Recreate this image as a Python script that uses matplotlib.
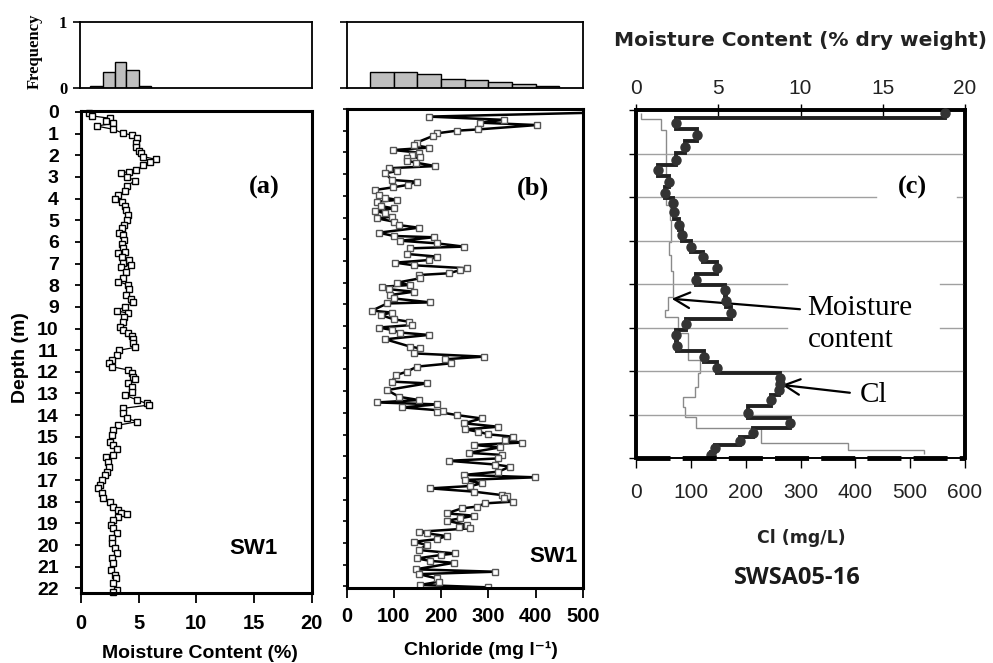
import numpy as np
import matplotlib
matplotlib.use('Agg')
import matplotlib.pyplot as plt

W, H = 993, 663

# (a) moisture content profile, SW1
a_depth = [0.06, 0.18, 0.29, 0.40, 0.52, 0.65, 0.80, 0.99, 1.06, 1.22, 1.42, 1.63, 1.79, 1.91, 2.06,
           2.19, 2.29, 2.45, 2.68, 2.76, 2.80, 2.99, 3.17, 3.42, 3.63, 3.83, 4.03, 4.14, 4.34, 4.53,
           4.76, 5.00, 5.22, 5.37, 5.57, 5.68, 5.91, 6.10, 6.30, 6.45, 6.53, 6.68, 6.84, 6.99, 7.07,
           7.14, 7.37, 7.68, 7.84, 7.99, 8.19, 8.45, 8.65, 8.76, 8.99, 9.18, 9.30, 9.48, 9.68, 9.92,
           10.07, 10.22, 10.35, 10.50, 10.69, 10.87, 11.00, 11.23, 11.46, 11.61, 11.76, 11.92, 12.07,
           12.26, 12.35, 12.50, 12.69, 12.92, 13.07, 13.30, 13.46, 13.53, 13.69, 13.92, 14.15, 14.30,
           14.46, 14.69, 14.92, 15.23, 15.38, 15.58, 15.85, 15.95, 16.15, 16.38, 16.61, 16.77, 17.00,
           17.23, 17.38, 17.61, 17.84, 18.00, 18.23, 18.38, 18.54, 18.57, 18.69, 18.85, 19.08, 19.23,
           19.46, 19.69, 19.92, 20.15, 20.38, 20.61, 20.84, 21.15, 21.38, 21.54, 21.77, 22.08, 22.18]
a_moist = [0.72, 0.93, 2.52, 2.17, 2.81, 1.36, 2.81, 3.68, 4.41, 4.90, 4.78, 4.78, 4.99, 5.19, 5.42,
           6.52, 6.00, 5.42, 4.78, 4.20, 3.45, 3.97, 4.70, 3.97, 3.83, 3.25, 2.96, 3.54, 3.83, 3.91,
           4.06, 3.97, 3.74, 3.54, 3.33, 3.68, 3.74, 3.54, 3.68, 3.83, 3.25, 3.54, 4.20, 3.68, 4.35,
           3.45, 3.91, 3.68, 3.25, 4.12, 4.20, 3.91, 4.32, 4.55, 3.83, 3.10, 4.12, 3.74, 3.62, 3.39,
           3.68, 4.12, 4.41, 4.55, 4.50, 4.70, 3.33, 3.10, 2.67, 2.46, 2.67, 4.12, 4.41,
           4.55, 4.70, 4.04, 4.41, 4.41, 3.83, 4.84, 5.71, 5.94, 3.62, 3.68, 3.97, 4.90,
           3.25, 2.81, 2.67, 2.52, 2.81, 3.10, 2.81, 2.17, 2.38, 2.46, 2.29, 2.09, 1.80,
           1.65, 1.51, 1.80, 1.94, 2.52, 2.81, 3.25, 3.45, 3.97, 3.25, 2.81, 2.58, 2.81,
           3.10, 2.67, 2.67, 2.96, 3.10, 2.67, 2.81, 2.61, 2.96, 3.04, 2.81, 3.10, 2.75]

# (b) chloride profile, SW1
b_depth = [0.15, 0.35, 0.50, 0.63, 0.74, 0.94, 1.00, 1.12, 1.24, 1.55, 1.66, 1.78, 1.89, 2.01, 2.12,
           2.23, 2.27, 2.38, 2.47, 2.63, 2.73, 2.86, 2.96, 3.27, 3.35, 3.50, 3.61, 3.73, 3.96, 4.09,
           4.19, 4.27, 4.47, 4.58, 4.69, 4.81, 4.96, 5.04, 5.19, 5.35, 5.47, 5.70, 5.85, 5.91, 6.07,
           6.19, 6.34, 6.42, 6.68, 6.80, 6.96, 7.08, 7.20, 7.34, 7.42, 7.57, 7.65, 7.80, 8.00, 8.11,
           8.19, 8.30, 8.42, 8.57, 8.73, 8.91, 8.96, 9.29, 9.38, 9.49, 9.69, 9.80, 9.95, 10.07, 10.18,
           10.30, 10.41, 10.61, 10.95, 11.03, 11.26, 11.41, 11.53, 11.72, 11.87, 12.10, 12.26, 12.56,
           12.64, 12.95, 13.26, 13.41, 13.52, 13.61, 13.75, 13.90, 13.95, 14.10, 14.26, 14.48, 14.64,
           14.76, 14.87, 14.99, 15.10, 15.25, 15.37, 15.48, 15.59, 15.84, 15.94, 16.10, 16.21, 16.38,
           16.48, 16.71, 16.86, 16.97, 17.09, 17.25, 17.37, 17.48, 17.63, 17.79, 17.83, 17.94, 18.09,
           18.17, 18.32, 18.40, 18.63, 18.74, 18.86, 18.97, 19.17, 19.25, 19.32, 19.48, 19.55, 19.68,
           19.82, 19.94, 20.09, 20.32, 20.48, 20.55, 20.71, 20.82, 20.91, 21.21, 21.32, 21.43, 21.63,
           21.78, 21.93, 22.04]
b_cl = [560, 174, 332, 283, 402, 279, 233, 191, 183, 148, 142, 174, 99, 153, 139,
        156, 128, 128, 146, 188, 89, 107, 82, 96, 149, 129, 98, 61, 68, 82,
        107, 65, 72, 100, 61, 82, 96, 65, 100, 111, 153, 68, 100, 184, 114,
        191, 248, 135, 128, 191, 174, 103, 142, 255, 241, 216, 153, 156, 107, 134,
        75, 89, 142, 93, 100, 177, 86, 54, 96, 72, 100, 132, 139, 68, 96,
        114, 174, 82, 135, 156, 142, 290, 209, 220, 149, 128, 105, 96,
        170, 86, 111, 153, 65, 191, 118, 205, 191, 233, 286, 248, 321,
        251, 279, 300, 353, 335, 370, 269, 325, 258, 329, 321, 216, 314,
        346, 321, 248, 399, 251, 286, 262, 177, 269, 329, 339, 332, 353,
        293, 276, 244, 212, 269, 241, 212, 255, 237, 262, 153, 170, 212,
        191, 142, 170, 153, 230, 199, 149, 177, 227, 146, 314, 153, 191,
        195, 156, 300]

# frequency histograms above (a) and (b)
hist_a_edges = [0.9, 1.95, 3.0, 4.0, 5.05, 6.1]
hist_a_freq = [0.035, 0.25, 0.40, 0.27, 0.035]
hist_b_edges = [50, 100, 150, 200, 250, 300, 350, 400, 450]
hist_b_freq = [0.235, 0.235, 0.215, 0.135, 0.12, 0.095, 0.06, 0.025]

# (c) SWSA05-16 : Cl samples (bottom axis) and moisture steps (top axis)
c_depth = [0.08, 0.30, 0.57, 0.84, 1.15, 1.38, 1.65, 1.90, 2.13, 2.35, 2.64, 2.87, 3.14, 3.37, 3.64,
           3.90, 4.14, 4.40, 4.67, 4.93, 5.17, 5.43, 5.67, 5.92, 6.17, 6.31, 6.44, 6.67, 6.96, 7.19,
           7.43, 7.62, 7.78, 7.93]
c_cl = [563, 73, 111, 89, 73, 41, 61, 53, 67, 69, 79, 83, 100, 122, 147,
        109, 162, 164, 173, 91, 73, 75, 124, 148, 263, 262, 261, 246, 205, 281,
        214, 190, 144, 136]
c_mc_edges = [0.08, 0.20, 0.46, 2.18, 2.53, 3.03, 3.33, 3.70, 4.29, 4.60, 4.75, 5.13, 5.75, 6.05,
              6.36, 6.59, 6.82, 7.05, 7.32, 7.66, 7.82, 7.90]
c_mc = [0.32, 1.54, 1.84, 2.05, 2.15, 2.00, 2.15, 2.25, 1.95, 1.74, 2.55, 3.16, 3.87, 3.77,
        3.57, 2.86, 3.00, 3.67, 7.62, 12.9, 17.5]

SANS = ['Liberation Sans', 'DejaVu Sans']
SERIF = ['Liberation Serif', 'DejaVu Serif']


def box(l, t, r, b):
    return [l / W, 1 - b / H, (r - l) / W, (b - t) / H]


def ftext(x, y, s, **kw):
    fig.text(x / W, 1 - y / H, s, ha='center', va='center', **kw)


fig = plt.figure(figsize=(W / 100, H / 100), dpi=100)

# ---- histograms
for rect, edges, freq, xmax, labels in [((80, 22, 312, 88), hist_a_edges, hist_a_freq, 20, True),
                                        ((346.5, 22, 583, 88), hist_b_edges, hist_b_freq, 500, False)]:
    hx = fig.add_axes(box(*rect))
    e = np.array(edges, dtype=float)
    hx.bar(e[:-1], freq, width=np.diff(e), align='edge', color='#bfbfbf', edgecolor='black', lw=1)
    hx.set_xlim(0, xmax)
    hx.set_ylim(0, 1)
    hx.set_xticks([])
    hx.set_yticks([0, 1])
    hx.tick_params(axis='y', direction='out', length=5, width=1.2, pad=4)
    if labels:
        hx.set_yticklabels(['0', '1'], fontfamily=SERIF, fontweight='bold', fontsize=12)
    else:
        hx.set_yticklabels([])
    for s in hx.spines.values():
        s.set_linewidth(1.3)

ftext(35, 51, 'Frequency', rotation=90, fontfamily=SERIF, fontweight='bold', fontsize=12)

# ---- (a)
aa = fig.add_axes(box(81, 110.7, 311.5, 592.7))
aa.plot(a_moist, a_depth, '-', color='black', lw=0.9, marker='s', ms=5, mfc='white',
        mec='black', mew=1.0, clip_on=False)
aa.set_xlim(0, 20)
aa.set_ylim(22.2, -0.06)
aa.set_xticks([0, 5, 10, 15, 20])
aa.set_yticks(range(0, 23))
aa.tick_params(axis='y', direction='out', length=4, width=1.3, pad=12, labelsize=14)
aa.tick_params(axis='x', direction='out', length=7, width=1.3, pad=8, labelsize=14.5)
for lab in aa.get_xticklabels() + aa.get_yticklabels():
    lab.set_fontweight('bold')
    lab.set_fontfamily(SANS)
for s in aa.spines.values():
    s.set_linewidth(2.2)
ftext(264, 187, '(a)', fontfamily=SERIF, fontweight='bold', fontsize=19)
ftext(253, 548, 'SW1', fontfamily=SANS, fontweight='bold', fontsize=16)
ftext(21, 358, 'Depth (m)', rotation=90, fontfamily=SANS, fontweight='bold', fontsize=14)
ftext(200, 653, 'Moisture Content (%)', fontfamily=SANS, fontweight='bold', fontsize=14)

# ---- (b)
ab = fig.add_axes(box(346.5, 109, 583, 588))
ab.plot(b_cl, b_depth, '-', color='black', lw=1.8, marker='s', ms=4.5, mfc='white',
        mec='#555555', mew=1.0)
ab.set_xlim(0, 500)
ab.set_ylim(22.07, 0)
ab.set_xticks(range(0, 501, 100))
ab.set_yticks(range(0, 23))
ab.set_yticklabels([])
ab.tick_params(axis='y', direction='out', length=3, width=1.2)
ab.tick_params(axis='x', direction='out', length=7, width=1.3, pad=7, labelsize=14.5)
for lab in ab.get_xticklabels():
    lab.set_fontweight('bold')
    lab.set_fontfamily(SANS)
for s in ab.spines.values():
    s.set_linewidth(2.2)
ftext(533, 188, '(b)', fontfamily=SERIF, fontweight='bold', fontsize=19)
ftext(553, 557, 'SW1', fontfamily=SANS, fontweight='bold', fontsize=16)
ftext(481, 650, 'Chloride (mg l\u207b\u00b9)', fontfamily=SANS, fontweight='bold', fontsize=14)

# ---- (c)
ac = fig.add_axes(box(636, 110, 965, 458))
at = ac.twiny()
ac.set_zorder(at.get_zorder() + 1)
ac.patch.set_visible(False)

ed = np.array(c_depth)
cl_edges = np.concatenate([[0], (ed[:-1] + ed[1:]) / 2, [8]])
ac.stairs(c_cl, cl_edges, orientation='horizontal', baseline=None, color='#222222', lw=2.8,
          zorder=3)
ac.plot(c_cl, c_depth, 'o', color='#333333', ms=6.5, zorder=4, clip_on=False)
at.stairs(c_mc, c_mc_edges, orientation='horizontal', baseline=None, color='#8a8a8a', lw=1.0)

# horizontal grid, broken where the labels sit
grid_gaps = {2: [(0, 0.73), (0.975, 1)], 4: [(0, 0.46), (0.924, 1)], 5: [(0, 0.46), (0.924, 1)]}
for d in range(1, 8):
    for x0, x1 in grid_gaps.get(d, [(0, 1)]):
        ac.axhline(d, x0, x1, color='#a0a0a0', lw=1.0, zorder=1)
ac.axhline(8, color='black', lw=3.5, ls=(0, (7, 2.5)), clip_on=False, zorder=5)

ac.set_xlim(0, 600)
ac.set_ylim(8, 0)
at.set_xlim(0, 20)
ac.set_xticks(range(0, 601, 100))
ac.set_yticks(range(0, 9))
ac.set_yticklabels([])
ac.tick_params(axis='y', direction='out', length=5, width=1)
ac.tick_params(axis='x', direction='out', length=7, width=1, pad=11, labelsize=15,
               labelcolor='#222222')
at.set_xticks([0, 5, 10, 15, 20])
at.tick_params(axis='x', direction='inout', length=8, width=1, pad=5, labelsize=15,
               labelcolor='#222222')
for lab in ac.get_xticklabels() + at.get_xticklabels():
    lab.set_fontfamily(SANS)
for axx in (ac, at):
    for s in axx.spines.values():
        s.set_linewidth(2.6)
ac.spines['bottom'].set_linewidth(1.2)
at.spines['bottom'].set_linewidth(1.2)

ac.annotate('', xy=(65, 4.34), xytext=(299, 4.58),
            arrowprops=dict(arrowstyle='->', lw=1.6, color='black', mutation_scale=28,
                            shrinkA=0, shrinkB=0))
ac.text(313, 4.92, 'Moisture\ncontent', ha='left', va='center', fontfamily=SERIF, fontsize=21,
        linespacing=1.3)
ac.annotate('', xy=(266, 6.32), xytext=(390, 6.5),
            arrowprops=dict(arrowstyle='->', lw=1.6, color='black', mutation_scale=28,
                            shrinkA=0, shrinkB=0))
ac.text(408, 6.55, 'Cl', ha='left', va='center', fontfamily=SERIF, fontsize=21)
ftext(912, 187, '(c)', fontfamily=SERIF, fontweight='bold', fontsize=19)

ftext(801, 40, 'Moisture Content (% dry weight)', fontfamily=['DejaVu Sans'], fontweight='bold',
      fontsize=14.5, color='#222222')
ftext(801, 538, 'Cl (mg/L)', fontfamily=['DejaVu Sans'], fontweight='bold', fontsize=12.5,
      color='#222222')
ftext(797, 578, 'SWSA05-16', fontfamily=['Open Sans', 'DejaVu Sans'], fontweight='bold',
      fontsize=17, color='#1a1a1a')

fig.savefig('out.png', dpi=100)
